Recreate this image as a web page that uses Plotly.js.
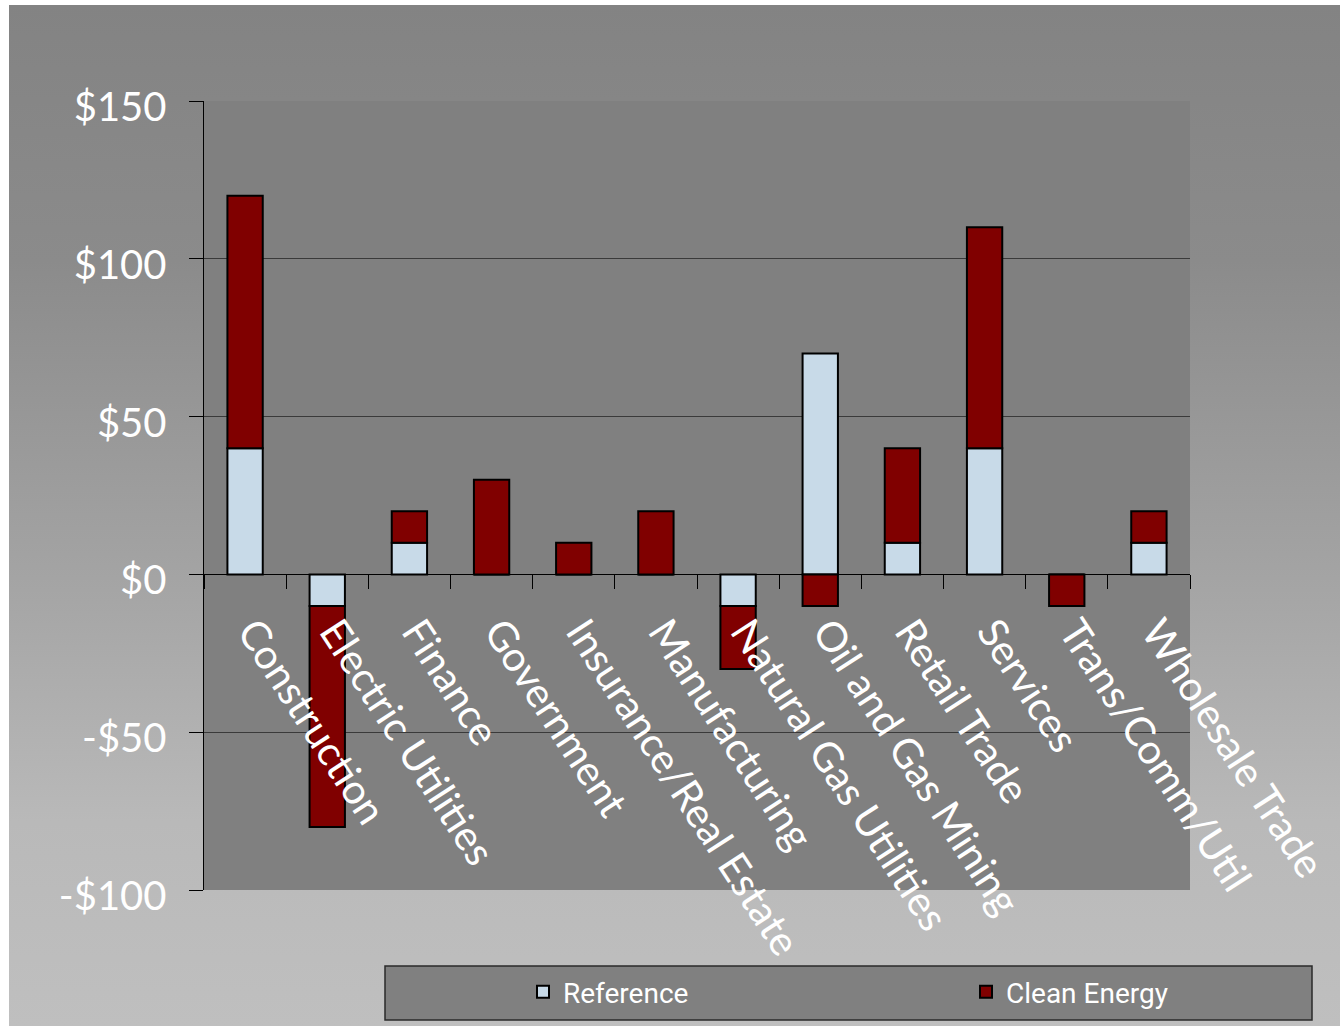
<!DOCTYPE html>
<html>
<head>
<meta charset="utf-8">
<script src="https://cdn.plot.ly/plotly-3.0.1.min.js"></script>
<style>
  html, body { margin: 0; padding: 0; background: #ffffff; }
  #bg { position: absolute; left: 9px; top: 5px; width: 1331px; height: 1021px;
        background: linear-gradient(to bottom, #838383 0%, #8b8b8b 25%, #a3a3a3 55%, #b9b9b9 80%, #bfbfbf 100%); }
  #chart { position: absolute; left: 0; top: 0; width: 1340px; height: 1026px; }
</style>
</head>
<body>
<div id="bg"></div>
<div id="chart"></div>
<script>
const categories = ["Construction", "Electric Utilities", "Finance", "Government", "Insurance/Real Estate",
  "Manufacturing", "Natural Gas Utilities", "Oil and Gas Mining", "Retail Trade", "Services",
  "Trans/Comm/Util", "Wholesale Trade"];
const referenceValues = [40, -10, 10, 0, 0, 0, -10, 70, 10, 40, 0, 10];
const cleanEnergyValues = [80, -70, 10, 30, 10, 20, -20, -10, 30, 70, -10, 10];
const yTickValues = [-100, -50, 0, 50, 100, 150];
const yTickLabels = ["-$100", "-$50", "$0", "$50", "$100", "$150"];

const W = 1340, H = 1026;
const plotL = 204, plotR = 1190, plotT = 101, plotB = 890;
const pw = plotR - plotL, ph = plotB - plotT;
const px = v => (v - plotL) / pw;
const py = v => (plotB - v) / ph;

const legendFont = { family: 'Roboto, "Liberation Sans Narrow", sans-serif', size: 28, color: '#ffffff' };

const traces = [
  { type: 'bar', name: 'Reference', x: categories, y: referenceValues, legend: 'legend',
    marker: { color: '#c8dae8', line: { color: '#000000', width: 2 } } },
  { type: 'bar', name: 'Clean Energy', x: categories, y: cleanEnergyValues, legend: 'legend2',
    marker: { color: '#800000', line: { color: '#000000', width: 2 } } }
];

const yMin = -100, yMax = 150;
const zeroPos = (0 - yMin) / (yMax - yMin);

const layout = {
  width: W, height: H,
  margin: { l: plotL, r: W - plotR, t: plotT, b: H - plotB, pad: 0, autoexpand: false },
  paper_bgcolor: 'rgba(0,0,0,0)',
  plot_bgcolor: '#808080',
  barmode: 'relative',
  bargap: 0.57,
  font: { family: 'Lato, "Open Sans", sans-serif', color: '#ffffff' },
  xaxis: {
    type: 'category', automargin: false,
    anchor: 'free', position: zeroPos,
    showline: true, linecolor: '#000000', linewidth: 1,
    ticks: 'outside', tickson: 'boundaries', ticklen: 14, tickcolor: '#000000', tickwidth: 1,
    tickangle: 57, ticklabelstandoff: 16, ticklabelshift: 8,
    tickfont: { family: 'Lato, "Open Sans", sans-serif', size: 41, color: '#ffffff' },
    showgrid: false, zeroline: false, fixedrange: true
  },
  yaxis: {
    range: [yMin, yMax], automargin: false,
    tickvals: yTickValues, ticktext: yTickLabels,
    showline: true, linecolor: '#000000', linewidth: 1.5,
    ticks: 'outside', ticklen: 14, tickcolor: '#000000', tickwidth: 1,
    ticklabelstandoff: 14, ticklabelshift: 6,
    tickfont: { family: 'Lato, "Open Sans", sans-serif', size: 40, color: '#ffffff' },
    showgrid: true, gridcolor: '#3a3a3a', gridwidth: 1,
    zeroline: true, zerolinecolor: '#000000', zerolinewidth: 1,
    fixedrange: true
  },
  showlegend: true,
  legend: {
    orientation: 'h', x: px(523), xanchor: 'left', y: py(992), yanchor: 'middle',
    bgcolor: 'rgba(0,0,0,0)', borderwidth: 0, font: legendFont
  },
  legend2: {
    orientation: 'h', x: px(966), xanchor: 'left', y: py(992), yanchor: 'middle',
    bgcolor: 'rgba(0,0,0,0)', borderwidth: 0, font: legendFont
  },
  shapes: [
    { type: 'rect', xref: 'paper', yref: 'paper', layer: 'below',
      x0: px(385), x1: px(1312), y0: py(966), y1: py(1020),
      fillcolor: '#808080', line: { color: '#2a2a2a', width: 1.5 } }
  ]
};

Plotly.newPlot('chart', traces, layout, { staticPlot: true, displayModeBar: false });
</script>
</body>
</html>
